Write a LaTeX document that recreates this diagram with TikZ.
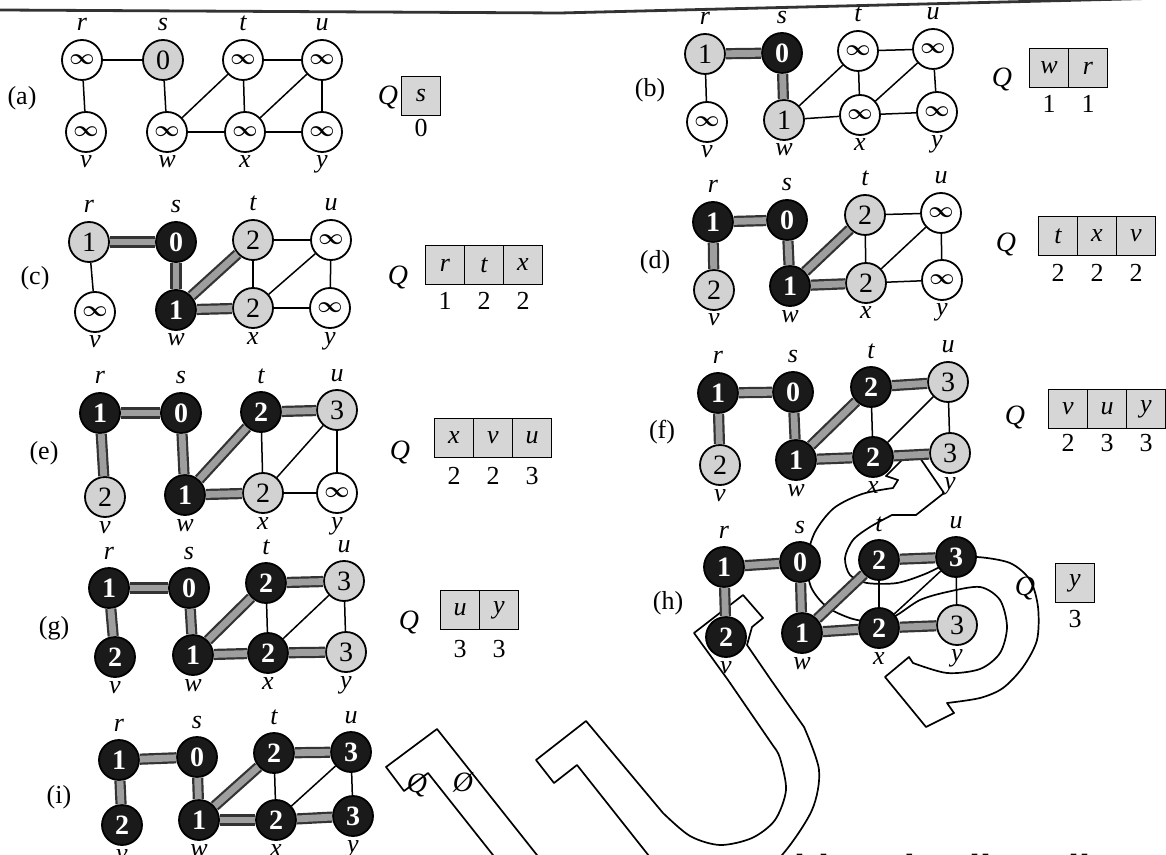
\documentclass[tikz,border=0pt]{standalone}
\usepackage{fontspec}
\setmainfont{Liberation Serif}
\newfontfamily\arabicfont[Script=Arabic]{DejaVu Sans}
\TeXXeTstate=1
\usetikzlibrary{calc}
\definecolor{gnode}{HTML}{D2D2D2}
\definecolor{bnode}{HTML}{1A1A1A}
\definecolor{qfill}{HTML}{D6D6D6}
\newcommand\pnl[9]{%
  \coordinate (#1r) at (#2);\coordinate (#1s) at (#3);\coordinate (#1t) at (#4);\coordinate (#1u) at (#5);%
  \coordinate (#1v) at (#6);\coordinate (#1w) at (#7);\coordinate (#1x) at (#8);\coordinate (#1y) at (#9);%
  \foreach \n in {r,s,t,u}{\node[lbl,anchor=base] (#1\n L) at ($(#1\n)+(0,-29)$) {\n};}%
  \foreach \n in {v,w,x,y}{\node[lbl,anchor=base] (#1\n L) at ($(#1\n)+(0,36)$) {\n};}%
}
\newcommand\vx[3]{\node[#2] (#1N) at (#1) {#3};}
\newcommand\infsym{$\infty$}
\newcommand\gedges[1]{\foreach \a/\b in {r/s,r/v,s/w,w/t,w/x,t/x,t/u,x/u,x/y,u/y}{\draw[ge] (#1\a N) -- (#1\b N);}}
\newcommand\tedges[2]{\foreach \a/\b in {#2}{\draw[te] (#1\a N) -- (#1\b N);}}
\begin{document}
\begin{tikzpicture}[x=0.5pt,y=-0.5pt,
  every node/.style={inner sep=0pt,font=\fontsize{13}{14}\selectfont},
  wn/.style={circle,draw=black,line width=0.9pt,fill=white,minimum size=20pt,font=\fontsize{11}{12}\selectfont\boldmath},
  gn/.style={wn,fill=gnode,font=\fontsize{14}{15}\selectfont},
  bn/.style={wn,fill=bnode,text=white,font=\fontsize{14}{15}\selectfont\bfseries},
  lbl/.style={font=\fontsize{13}{14}\selectfont\itshape},
  plab/.style={font=\fontsize{13}{14}\selectfont},
  qlab/.style={font=\fontsize{14}{15}\selectfont\itshape},
  ge/.style={line width=0.75pt},
  te/.style={draw=black!80,double=black!38,line width=1.1pt,double distance=3.4pt},
  qb/.style={draw,line width=0.9pt,fill=qfill,minimum width=19.5pt,minimum height=19.5pt,font=\fontsize{13}{14}\selectfont\itshape},
  wm/.style={line width=0.85pt,line join=round},
  arab/.style={font=\arabicfont\fontsize{16}{18}\selectfont\bfseries,anchor=base}
]
\useasboundingbox (0,0) rectangle (1166,855);
\fill[white] (0,0) rectangle (1166,855);
% top rule
\draw[line width=1.4pt,black!80] (0,10) -- (560,13) -- (1166,-2);
% watermark outlines
\begin{scope}
\clip (0,0) rectangle (1166,855);
\draw[wm] (386,767) -- (437,729) -- (575,903) -- (531,903) -- (428,773) -- (404,791) -- cycle;
\draw[wm] (536,760) -- (586,721) -- (663,813)
  -- plot[smooth] coordinates {(663,813) (690,836) (720,845) (752,838) (775,820) (786,790) (780,758) (774,747)}
  -- (728,680) -- (694,633) -- (743,595) -- (763,618) -- (752,627) -- (747,645) -- (771,680) -- (804,727)
  -- plot[smooth] coordinates {(804,727) (819,770) (812,810) (782,855) (745,885) (700,893) (668,880)}
  -- (577,765) -- (554,783) -- cycle;
\draw[wm] (905,457) -- (886,476) -- (898,480) -- (893,488)
  -- plot[smooth] coordinates {(893,488) (862,494) (834,508) (815,532) (807,560) (811,587) (827,607) (853,619) (880,622) (897,615) (920,600) (947,592) (980,587) (1000,600) (1007,627) (1000,653) (980,669) (947,673) (913,663)}
  -- (909,657) -- (885,677) -- (926,727) -- (954,713) -- (947,703)
  -- plot[smooth] coordinates {(947,703) (980,698) (1003,688) (1023,667) (1037,640) (1038,607) (1030,580) (1010,563) (977,557) (955,560) (925,574) (897,583) (867,583) (850,575) (845,558) (853,540) (870,527) (892,515)}
  -- (916,515) -- (944,493) -- (920,458) -- cycle;
\end{scope}
% ---------- (a)
\pnl{a}{82,60}{163,60}{243,60}{322,60}{86,132}{167,132}{245,132}{322,132}
\vx{ar}{wn}{\infsym}\vx{as}{gn}{0}\vx{at}{wn}{\infsym}\vx{au}{wn}{\infsym}
\vx{av}{wn}{\infsym}\vx{aw}{wn}{\infsym}\vx{ax}{wn}{\infsym}\vx{ay}{wn}{\infsym}
\gedges{a}
\node[plab] (aLab) at (22,98) {(a)};
\node[qlab] (aQ) at (388,98) {Q};
\node[qb] (aq1) at (421,96) {s};
\node[plab] (aq1n) at (421,128) {0};
% ---------- (b)
\pnl{b}{705,54}{782,53}{858,51}{933,49}{707,122}{784,120}{860,115}{937,112}
\vx{br}{gn}{1}\vx{bs}{bn}{0}\vx{bt}{wn}{\infsym}\vx{bu}{wn}{\infsym}
\vx{bv}{wn}{\infsym}\vx{bw}{gn}{1}\vx{bx}{wn}{\infsym}\vx{by}{wn}{\infsym}
\gedges{b}\tedges{b}{r/s,s/w}
\node[plab] (bLab) at (650,90) {(b)};
\node[qlab] (bQ) at (1002,80) {Q};
\node[qb] (bq1) at (1049,68) {w};\node[qb] (bq2) at (1088,68) {r};
\node[plab] (bq1n) at (1049,104) {1};\node[plab] (bq2n) at (1088,104) {1};
% ---------- (c)
\pnl{c}{89,242}{176,242}{253,240}{331,240}{95,312}{176,310}{253,308}{330,308}
\vx{cr}{gn}{1}\vx{cs}{bn}{0}\vx{ct}{gn}{2}\vx{cu}{wn}{\infsym}
\vx{cv}{wn}{\infsym}\vx{cw}{bn}{1}\vx{cx}{gn}{2}\vx{cy}{wn}{\infsym}
\gedges{c}\tedges{c}{r/s,s/w,w/t,w/x}
\node[plab] (cLab) at (35,278) {(c)};
\node[qlab] (cQ) at (398,278) {Q};
\node[qb] (cq1) at (445,265) {r};\node[qb] (cq2) at (484,265) {t};\node[qb] (cq3) at (523,265) {x};
\node[plab] (cq1n) at (445,301) {1};\node[plab] (cq2n) at (484,301) {2};\node[plab] (cq3n) at (523,301) {2};
% ---------- (d)
\pnl{d}{713,222}{787,220}{865,215}{941,213}{714,290}{790,286}{866,283}{942,280}
\vx{dr}{bn}{1}\vx{ds}{bn}{0}\vx{dt}{gn}{2}\vx{du}{wn}{\infsym}
\vx{dv}{gn}{2}\vx{dw}{bn}{1}\vx{dx}{gn}{2}\vx{dy}{wn}{\infsym}
\gedges{d}\tedges{d}{r/s,s/w,w/t,w/x,r/v}
\node[plab] (dLab) at (655,262) {(d)};
\node[qlab] (dQ) at (1006,245) {Q};
\node[qb] (dq1) at (1058,236) {t};\node[qb] (dq2) at (1097,236) {x};\node[qb] (dq3) at (1136,236) {v};
\node[plab] (dq1n) at (1058,273) {2};\node[plab] (dq2n) at (1097,273) {2};\node[plab] (dq3n) at (1136,273) {2};
% ---------- (e)
\pnl{e}{100,413}{181,413}{261,412}{337,410}{105,497}{185,495}{263,493}{337,493}
\vx{er}{bn}{1}\vx{es}{bn}{0}\vx{et}{bn}{2}\vx{eu}{gn}{3}
\vx{ev}{gn}{2}\vx{ew}{bn}{1}\vx{ex}{gn}{2}\vx{ey}{wn}{\infsym}
\gedges{e}\tedges{e}{r/s,s/w,w/t,w/x,r/v,t/u}
\node[plab] (eLab) at (44,453) {(e)};
\node[qlab] (eQ) at (400,452) {Q};
\node[qb] (eq1) at (454,438) {x};\node[qb] (eq2) at (493,438) {v};\node[qb] (eq3) at (532,438) {u};
\node[plab] (eq1n) at (454,476) {2};\node[plab] (eq2n) at (493,476) {2};\node[plab] (eq3n) at (532,476) {3};
% ---------- (f)
\pnl{f}{718,393}{793,392}{871,387}{948,382}{720,465}{796,460}{873,457}{950,453}
\vx{fr}{bn}{1}\vx{fs}{bn}{0}\vx{ft}{bn}{2}\vx{fu}{gn}{3}
\vx{fv}{gn}{2}\vx{fw}{bn}{1}\vx{fx}{bn}{2}\vx{fy}{gn}{3}
\gedges{f}\tedges{f}{r/s,s/w,w/t,w/x,r/v,t/u,x/y}
\node[plab] (fLab) at (662,432) {(f)};
\node[qlab] (fQ) at (1015,417) {Q};
\node[qb] (fq1) at (1068,409) {v};\node[qb] (fq2) at (1107,409) {u};\node[qb] (fq3) at (1146,409) {y};
\node[plab] (fq1n) at (1068,443) {2};\node[plab] (fq2n) at (1107,443) {3};\node[plab] (fq3n) at (1146,443) {3};
% ---------- (g)
\pnl{g}{109,588}{189,588}{266,583}{344,581}{115,657}{193,655}{268,653}{346,652}
\vx{gr}{bn}{1}\vx{gs}{bn}{0}\vx{gt}{bn}{2}\vx{gu}{gn}{3}
\vx{gv}{bn}{2}\vx{gw}{bn}{1}\vx{gx}{bn}{2}\vx{gy}{gn}{3}
\gedges{g}\tedges{g}{r/s,s/w,w/t,w/x,r/v,t/u,x/y}
\node[plab] (gLab) at (54,628) {(g)};
\node[qlab] (gQ) at (409,622) {Q};
\node[qb] (gq1) at (460,610) {u};\node[qb] (gq2) at (499,610) {y};
\node[plab] (gq1n) at (460,649) {3};\node[plab] (gq2n) at (499,649) {3};
% ---------- (h)
\pnl{h}{724,567}{800,562}{879,560}{956,557}{726,637}{802,633}{879,628}{957,625}
\vx{hr}{bn}{1}\vx{hs}{bn}{0}\vx{ht}{bn}{2}\vx{hu}{bn}{3}
\vx{hv}{bn}{2}\vx{hw}{bn}{1}\vx{hx}{bn}{2}\vx{hy}{gn}{3}
\gedges{h}\tedges{h}{r/s,s/w,w/t,w/x,r/v,t/u,x/y}
\node[plab] (hLab) at (668,603) {(h)};
\node[qlab] (hQ) at (1025,588) {Q};
\node[qb] (hq1) at (1075,583) {y};
\node[plab] (hq1n) at (1075,619) {3};
% ---------- (i)
\pnl{i}{119,760}{197,757}{274,753}{351,752}{122,825}{199,820}{276,820}{353,816}
\vx{ir}{bn}{1}\vx{is}{bn}{0}\vx{it}{bn}{2}\vx{iu}{bn}{3}
\vx{iv}{bn}{2}\vx{iw}{bn}{1}\vx{ix}{bn}{2}\vx{iy}{bn}{3}
\gedges{i}\tedges{i}{r/s,s/w,w/t,w/x,r/v,t/u,x/y}
\node[plab] (iLab) at (59,797) {(i)};
\node[qlab] (iQ) at (417,785) {Q};
\node[qlab] (iE) at (463,782) {Ø};
% arabic fragment at the bottom (cut by the page edge, as in the reference)
\node[arab] (ar1) at (812,878) {\beginR اتا\endR};
\node[arab] (ar2) at (1005,878) {\beginR والحقه المنظ\endR};
\end{tikzpicture}
\end{document}
